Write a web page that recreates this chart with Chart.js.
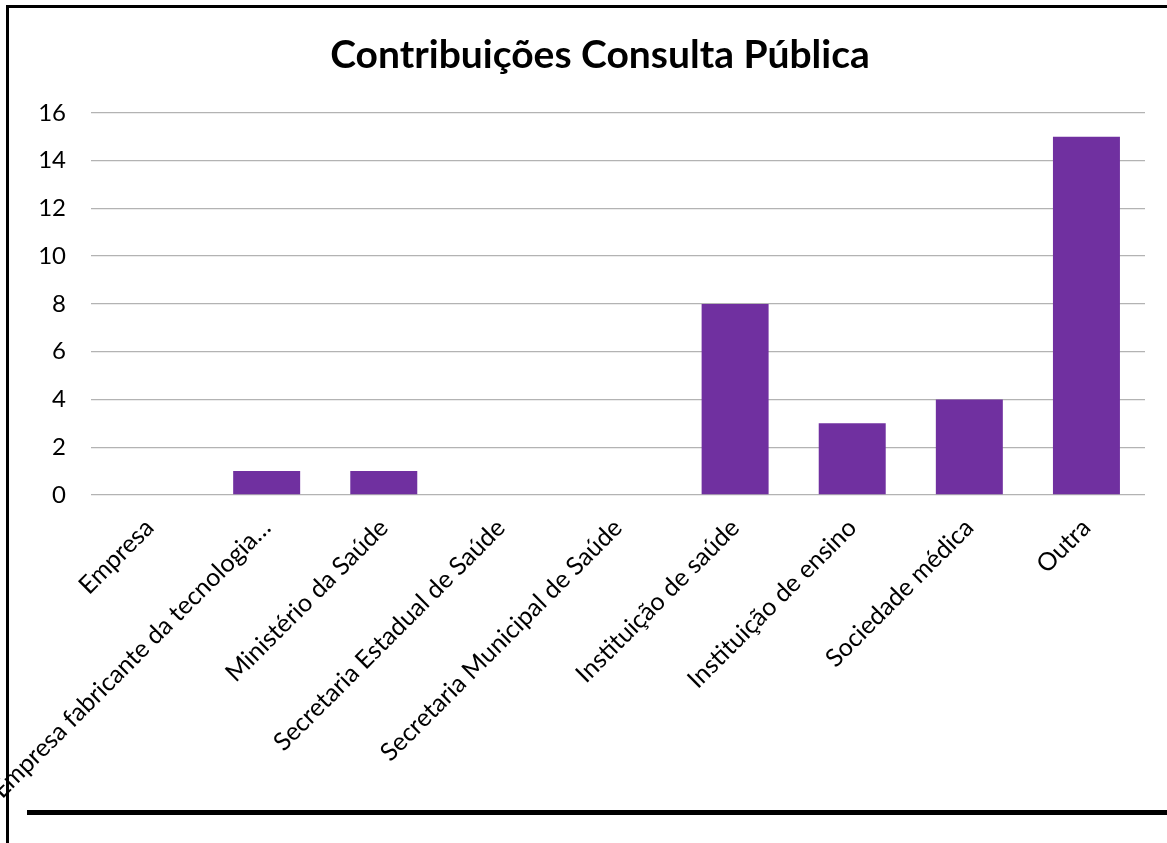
<!DOCTYPE html>
<html>
<head>
<meta charset="utf-8">
<script src="https://cdn.jsdelivr.net/npm/chart.js@4"></script>
<style>
  html, body { margin: 0; padding: 0; background: #fff; }
  canvas { display: block; }
</style>
</head>
<body>
<canvas id="c" width="1167" height="843"></canvas>
<script>
const categories = [
  "Empresa",
  "Empresa fabricante da tecnologia…",
  "Ministério da Saúde",
  "Secretaria Estadual de Saúde",
  "Secretaria Municipal de Saúde",
  "Instituição de saúde",
  "Instituição de ensino",
  "Sociedade médica",
  "Outra"
];
const contribuicoes = [0, 1, 1, 0, 0, 8, 3, 4, 15];
const yTicks = [0, 2, 4, 6, 8, 10, 12, 14, 16];
const titleText = "Contribuições Consulta Pública";

const FONT = "Lato, 'Liberation Sans', sans-serif";

const framePlugin = {
  id: 'frame',
  afterLayout(chart) {
    // centre the title over the whole frame, as in the reference
    if (chart.titleBlock) {
      chart.titleBlock.left = 55;
    }
  },
  afterDraw(chart) {
    const ctx = chart.ctx;
    ctx.save();
    ctx.fillStyle = '#000';
    ctx.fillRect(6, 5, 1167 - 6, 3);   // top border
    ctx.fillRect(6, 5, 3, 843 - 5);    // left border
    ctx.fillRect(27, 810, 1167 - 27, 5); // bottom thick rule
    ctx.restore();
  }
};

new Chart(document.getElementById('c'), {
  type: 'bar',
  data: {
    labels: categories,
    datasets: [{
      data: contribuicoes,
      backgroundColor: '#7030A0',
      borderWidth: 0,
      categoryPercentage: 1,
      barPercentage: 0.572
    }]
  },
  options: {
    responsive: false,
    animation: false,
    devicePixelRatio: 1,
    layout: { padding: { top: 0, right: 22, bottom: 0, left: 0 } },
    plugins: {
      legend: { display: false },
      tooltip: { enabled: false },
      title: {
        display: true,
        text: titleText,
        color: '#000',
        font: { family: FONT, size: 39, weight: 'bold', lineHeight: 1.2 },
        padding: { top: 32, bottom: 34 }
      }
    },
    scales: {
      x: {
        grid: { display: false, drawTicks: false },
        border: { display: false },
        ticks: {
          color: '#000',
          font: { family: FONT, size: 25 },
          minRotation: 45,
          maxRotation: 45,
          autoSkip: false,
          padding: 18
        },
        afterFit(scale) {
          scale.height = 843 - 495;
          scale.paddingLeft = 0;
          scale.paddingRight = 0;
        }
      },
      y: {
        min: 0,
        max: 16,
        afterBuildTicks(scale) {
          scale.ticks = yTicks.map(v => ({ value: v }));
        },
        grid: { color: '#b3b3b3', lineWidth: 1.3, drawTicks: false },
        border: { display: false },
        ticks: {
          color: '#000',
          font: { family: FONT, size: 24 },
          padding: 25
        },
        afterFit(scale) {
          scale.width = 91;
        }
      }
    }
  },
  plugins: [framePlugin]
});
</script>
</body>
</html>
